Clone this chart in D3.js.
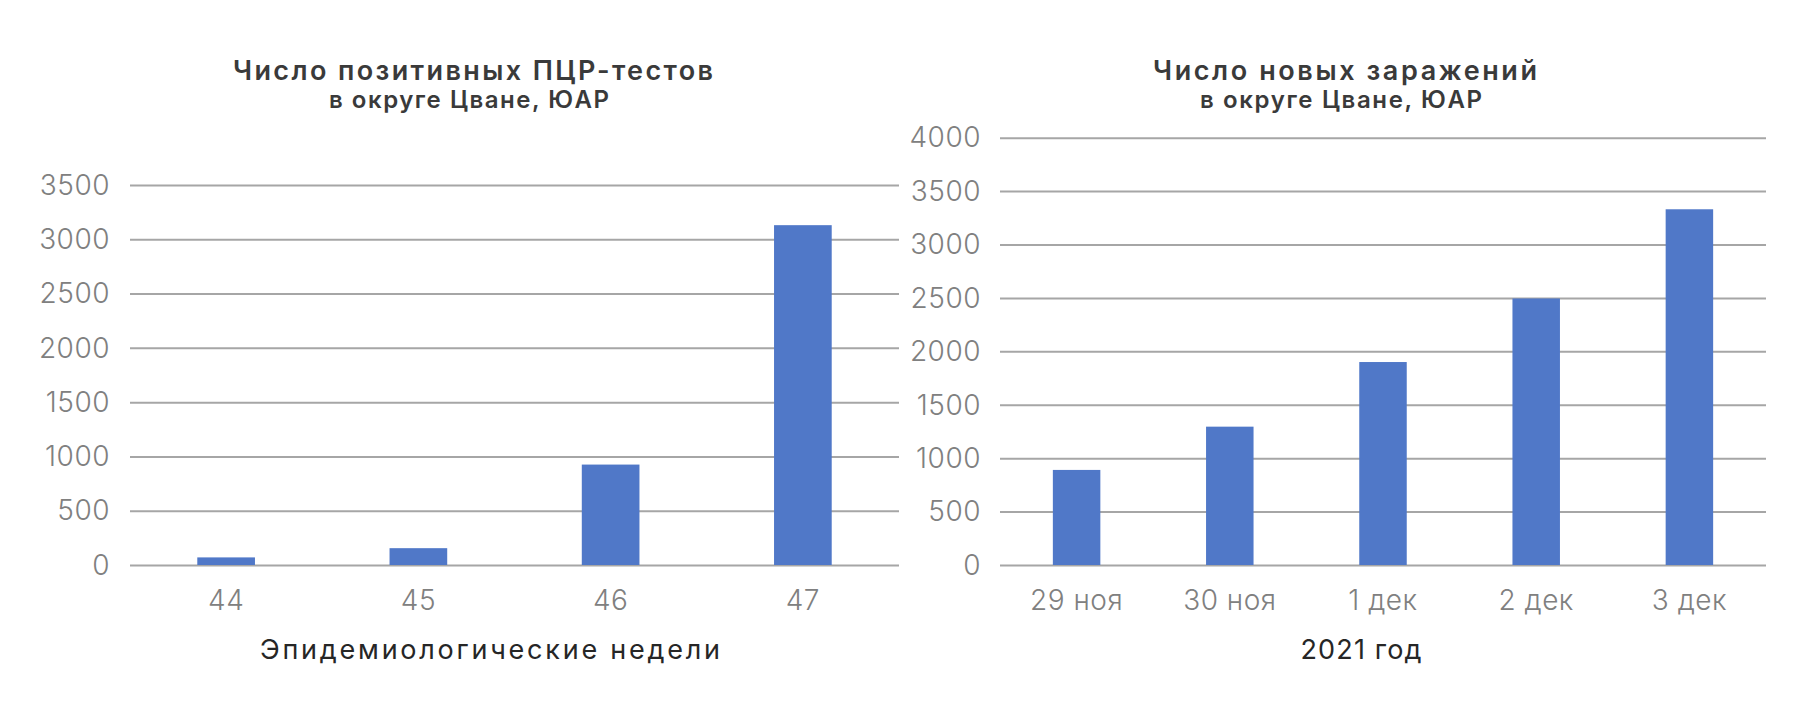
<!DOCTYPE html>
<html><head><meta charset="utf-8">
<script src="https://cdn.jsdelivr.net/npm/d3@7"></script>
<style>
html,body{margin:0;padding:0;background:#fff;}
svg{display:block;}
</style></head>
<body>
<svg id="chart" width="1810" height="705"></svg>
<script>
const weeks = ["44","45","46","47"];
const pcrPositive = [70, 155, 925, 3130];
const pcrTicks = [0,500,1000,1500,2000,2500,3000,3500];

const days = ["29 ноя","30 ноя","1 дек","2 дек","3 дек"];
const newCases = [890, 1295, 1900, 2495, 3330];
const caseTicks = [0,500,1000,1500,2000,2500,3000,3500,4000];

const FONT = "Inter, 'Open Sans', Lato, 'DejaVu Sans', sans-serif";
const BAR = "#5078C8", GRID = "#A6A6A6", TICK = "#808080", TITLE = "#3A3A3A", AXT = "#262626";

const svg = d3.select("#chart");

function fitText(sel, w){
  sel.attr("textLength", w).attr("lengthAdjust", "spacing");
}

function panel(cfg){
  const g = svg.append("g");
  const x = d3.scaleBand().domain(cfg.cats).range([cfg.x0, cfg.x1]).paddingInner(cfg.pad).paddingOuter(cfg.pad/2);
  const y = d3.scaleLinear().domain([0, cfg.ymax]).range([565, cfg.ytop]);

  const yAxis = d3.axisLeft(y).tickValues(cfg.ticks).tickSize(-(cfg.x1 - cfg.x0)).tickPadding(0).tickFormat(d3.format("d"));
  const ya = g.append("g").attr("transform", `translate(${cfg.x0},0)`).call(yAxis);
  ya.select(".domain").remove();
  ya.selectAll("line").attr("stroke", GRID).attr("stroke-width", 2);
  ya.selectAll("text").attr("x", cfg.labelX - cfg.x0).attr("dy", "0.33em")
    .attr("fill", TICK).style("font", `300 28px ${FONT}`).style("letter-spacing", "0.5px").attr("text-anchor","end");

  g.selectAll("rect.bar").data(cfg.vals).join("rect").attr("class","bar")
    .attr("x", (d,i) => x(cfg.cats[i])).attr("width", x.bandwidth())
    .attr("y", d => y(d)).attr("height", d => y(0) - y(d)).attr("fill", BAR);

  const xAxis = d3.axisBottom(x).tickSize(0).tickPadding(0);
  const xa = g.append("g").attr("transform", `translate(0,565)`).call(xAxis);
  xa.select(".domain").remove();
  xa.selectAll("text").attr("y", 45).attr("dy", 0)
    .attr("fill", TICK).style("font", `300 28px ${FONT}`).style("letter-spacing", "0.5px");

  g.append("text").attr("x", cfg.t1X).attr("y", 80).attr("text-anchor","middle")
    .attr("fill", TITLE).style("font", `600 27px ${FONT}`).text(cfg.title1).call(fitText, cfg.t1W);
  g.append("text").attr("x", cfg.t2X).attr("y", 108).attr("text-anchor","middle")
    .attr("fill", TITLE).style("font", `600 24px ${FONT}`).text(cfg.title2).call(fitText, cfg.t2W);
  g.append("text").attr("x", cfg.axX).attr("y", 659).attr("text-anchor","middle")
    .attr("fill", AXT).style("font", `400 27px ${FONT}`).text(cfg.axTitle).call(fitText, cfg.axW);
}

panel({cats: weeks, vals: pcrPositive, ticks: pcrTicks, ymax: 3500, ytop: 185,
  x0: 130, x1: 899, pad: 0.7, labelX: 110,
  t1X: 473, t1W: 480, t2X: 469, t2W: 280, axX: 490, axW: 460,
  title1: "Число позитивных ПЦР-тестов", title2: "в округе Цване, ЮАР",
  axTitle: "Эпидемиологические недели"});

panel({cats: days, vals: newCases, ticks: caseTicks, ymax: 4000, ytop: 137.7,
  x0: 1000, x1: 1766, pad: 0.69, labelX: 981,
  t1X: 1345, t1W: 384, t2X: 1341, t2W: 282, axX: 1361, axW: 121,
  title1: "Число новых заражений", title2: "в округе Цване, ЮАР",
  axTitle: "2021 год"});
</script>
</body></html>
